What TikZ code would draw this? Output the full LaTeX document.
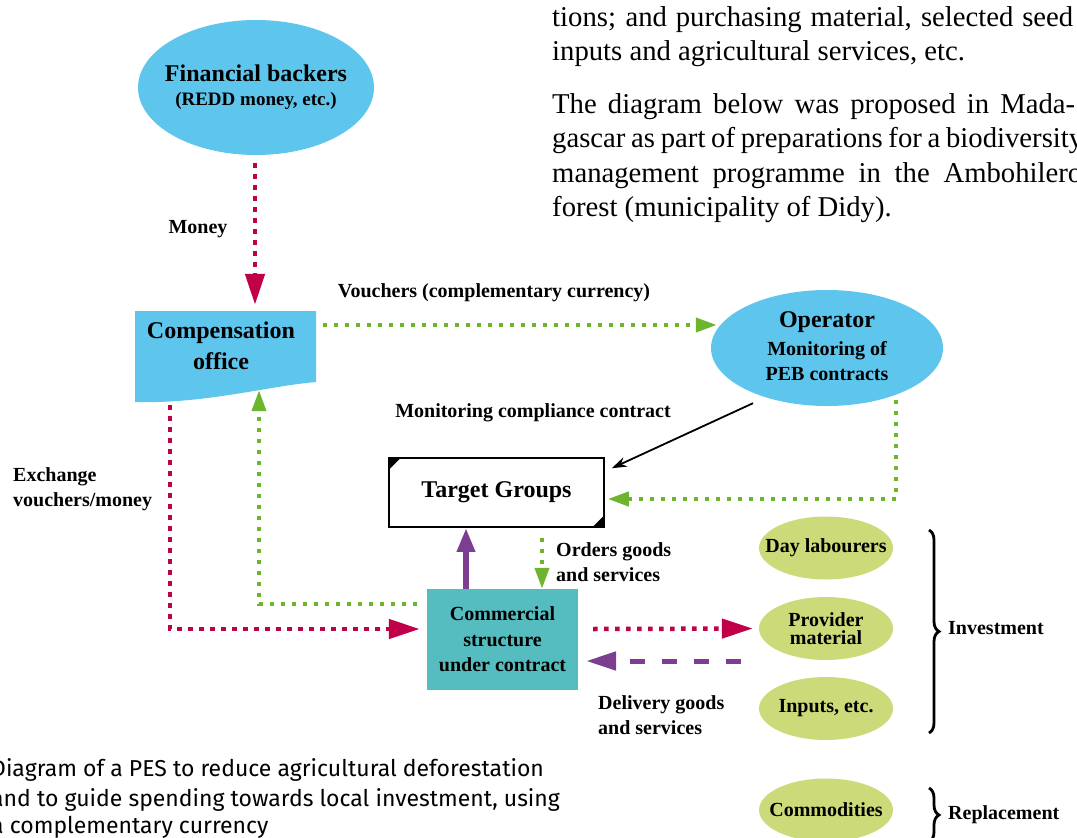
\documentclass[tikz,border=0pt]{standalone}
\usepackage{fontspec}
\setmainfont{Liberation Serif}
\newfontfamily\capfont{Fira Sans}
\usetikzlibrary{arrows.meta,shapes.geometric,decorations.pathreplacing,calc}
\definecolor{skyb}{HTML}{5EC5EC}
\definecolor{crim}{HTML}{C1004A}
\definecolor{lgreen}{HTML}{6DB52D}
\definecolor{tealbox}{HTML}{55BCBF}
\definecolor{purp}{HTML}{7D3E92}
\definecolor{olivell}{HTML}{CDDA79}
\tikzset{
  lbl/.style={font=\bfseries\fontsize{20}{25}\selectfont, inner sep=0pt, align=left},
  bodytxt/.style={font=\fontsize{28.7}{34}\selectfont, inner sep=0pt, anchor=base west},
  captxt/.style={font=\capfont\fontsize{23}{29}\selectfont, inner sep=0pt, anchor=base west},
  blueell/.style={ellipse, fill=skyb, inner sep=0pt},
  greenell/.style={ellipse, fill=olivell, minimum width=134pt, minimum height=63pt, inner sep=0pt},
  elltxt/.style={font=\bfseries\fontsize{20}{18}\selectfont, inner sep=0pt, align=center},
  reddot/.style={draw=crim, line width=4.5pt, dash pattern=on 4.5pt off 6.5pt},
  greendot/.style={draw=lgreen, line width=4pt, dash pattern=on 4pt off 7pt},
  redtip/.style={-{Triangle[length=31pt,width=19pt]}},
  greentip/.style={-{Triangle[length=21pt,width=14pt]}},
  brc/.style={decorate, decoration={brace, amplitude=10pt}, line width=2.8pt},
}
\begin{document}
\begin{tikzpicture}[x=1pt,y=-1pt]
\useasboundingbox (0,0) rectangle (1077,838);
\clip (0,0) rectangle (1077,838);

% body text
\node[bodytxt] (t1) at (552,26) {\makebox[521pt][s]{tions; and purchasing material, selected seed}};
\node[bodytxt] (t2) at (552,60) {inputs and agricultural services, etc.};
\node[bodytxt] (t3) at (552,113) {\makebox[523pt][s]{The diagram below was proposed in Mada-}};
\node[bodytxt] (t4) at (552,147) {\makebox[531pt][s]{gascar as part of preparations for a biodiversity}};
\node[bodytxt] (t5) at (552,182) {\makebox[530pt][s]{management programme in the Ambohilero}};
\node[bodytxt] (t6) at (552,216) {forest (municipality of Didy).};

% financial backers
\node[blueell, minimum width=236pt, minimum height=135pt] (fin) at (256,87.5) {};
\node[font=\bfseries\fontsize{24}{28}\selectfont, inner sep=0pt] (fin1) at (256,73) {Financial backers};
\node[font=\bfseries\fontsize{19}{24}\selectfont, inner sep=0pt] (fin2) at (256,101) {(REDD money, etc.)};

% compensation office
\fill[skyb] (135,311) -- (316,311) -- (316,382) .. controls (268,386) and (205,404) .. (135,402) -- cycle;
\node[minimum width=181pt, minimum height=71pt, inner sep=0pt] (comp) at (225.5,346.5) {};
\node[font=\bfseries\fontsize{24}{31}\selectfont, inner sep=0pt, align=center] (comptxt) at (221,346) {Compensation\\office};

% operator
\node[blueell, minimum width=232pt, minimum height=116pt] (op) at (827,348) {};
\node[font=\bfseries\fontsize{24}{28}\selectfont, inner sep=0pt] (op1) at (827,322) {Operator};
\node[lbl, align=center] (op2) at (827,361.5) {Monitoring of\\PEB contracts};

% target groups
\node[draw=black, line width=1.5pt, fill=white, minimum width=215pt, minimum height=69pt, inner sep=0pt, font=\bfseries\fontsize{24}{28}\selectfont] (tg) at (496.5,492.5) {Target Groups};
\fill (tg.north west) -- ++(13,0) -- ++(-13,13) -- cycle;
\fill (tg.south east) -- ++(-13,0) -- ++(13,-13) -- cycle;

% commercial structure
\node[fill=tealbox, minimum width=151pt, minimum height=101pt, inner sep=0pt, font=\bfseries\fontsize{20}{25.5}\selectfont, align=center] (cs) at (502.5,639.5) {Commercial\\structure\\under contract};

% green ellipses
\node[greenell] (dl) at (826,548) {};
\node[greenell] (pm) at (826,628.5) {};
\node[greenell] (inp) at (826,708.5) {};
\node[greenell] (cm) at (826,810) {};
\node[elltxt] (dlt) at (dl.center) {Day labourers};
\node[elltxt] (pmt) at (pm.center) {Provider\\material};
\node[elltxt] (inpt) at (inp.center) {Inputs, etc.};
\node[elltxt] (cmt) at (cm.center) {Commodities};

% labels
\node[lbl] (money) at (198,229) {Money};
\node[lbl] (vlab) at (494,293) {Vouchers (complementary currency)};
\node[lbl] (mon) at (533,413) {Monitoring compliance contract};
\node[lbl, anchor=west] (exch) at (13,489.5) {Exchange\\vouchers/money};
\node[lbl, anchor=west] (ord) at (556,562) {Orders goods\\and services};
\node[lbl, anchor=west] (del) at (598,715) {Delivery goods\\and services};
\node[lbl, anchor=west] (inv) at (948,628) {Investment};
\node[lbl, anchor=west] (rep) at (948,815) {Replacement};

% connectors
\draw[reddot,redtip] ($(fin.south)+(-1,8)$) -- ($(comp.north)+(29.5,-6)$);
\draw[greendot,greentip] ($(comp.east)+(7,-21.5)$) -- ($(op.west)+(6,-23)$);
\draw[line width=1.8pt, -{Stealth[length=15pt,width=10pt]}] ($(op.south)+(-74,-3)$) -- ($(tg.north east)+(7,11)$);
\draw[greendot,greentip] ($(op.south)+(69,-6)$) |- ($(tg.east)+(3,6.5)$);
\draw[reddot,redtip] ($(comp.south)+(-55.5,23)$) |- ($(cs.west)+(-7,-10.5)$);
\draw[greendot,greentip] ($(cs.west)+(-10,-35.5)$) -| ($(comp.south)+(33.5,8)$);
\draw[purp, line width=6pt, -{Triangle[length=24pt,width=17pt]}] ($(cs.north)+(-36.5,0)$) -- ($(tg.south)+(-30.5,0)$);
\draw[greendot,greentip] ($(tg.south)+(45.5,10)$) -- ($(cs.north)+(39.5,0)$);
\draw[reddot,redtip] ($(cs.east)+(15,-10.5)$) -- ($(pm.west)+(-6,0)$);
\draw[purp, line width=5pt, dash pattern=on 15pt off 17pt, -{Triangle[length=30pt,width=18pt]}] ($(pm.west)+(-18,32.5)$) -- ($(cs.east)+(8,21.5)$);

% braces
\draw[brc] (929,530) -- (929,733);
\draw[brc] (929,788) -- (929,842);

% caption
\node[captxt] (c1) at (-9,776) {Diagram of a PES to reduce agricultural deforestation};
\node[captxt] (c2) at (-9,806) {and to guide spending towards local investment, using};
\node[captxt] (c3) at (-9,833) {a complementary currency};
\end{tikzpicture}
\end{document}
